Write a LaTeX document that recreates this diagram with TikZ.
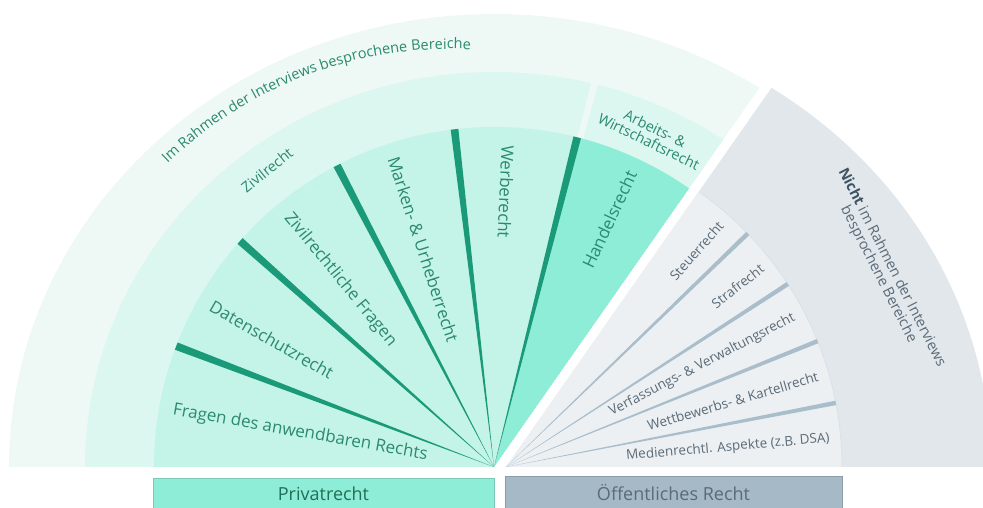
\documentclass[tikz,border=0pt]{standalone}
\usepackage{fontspec}
\setmainfont{Open Sans}
\usetikzlibrary{decorations.text}
\definecolor{ringA}{HTML}{EEF9F6}
\definecolor{ringB}{HTML}{DCF7F0}
\definecolor{fanG}{HTML}{C4F4E7}
\definecolor{handelG}{HTML}{8EEDD6}
\definecolor{sepG}{HTML}{1B9A7A}
\definecolor{txtG}{HTML}{2B8A6E}
\definecolor{ringC}{HTML}{E1E7EB}
\definecolor{fanC}{HTML}{ECF0F3}
\definecolor{sepC}{HTML}{A9BDCB}
\definecolor{txtC}{HTML}{5B6B78}
\definecolor{boldC}{HTML}{3E5363}
\definecolor{boxC}{HTML}{A6B9C6}

\begin{document}
\begin{tikzpicture}[x=1pt,y=1pt,
  gtext/.style={text=txtG,font=\fontsize{17}{19}\selectfont,inner sep=0pt},
  ctext/.style={text=txtC,font=\fontsize{13.5}{15}\selectfont,inner sep=0pt},
  rtext/.style={font=\fontsize{14.5}{14.5}\selectfont,inner sep=0pt,align=center}]
  \useasboundingbox (-494,-41) rectangle (489,467);
  % Privatrecht half
  \begin{scope}
    \clip (0,0) -- (55:1000) -- (90:1000) -- (180:1000) -- cycle;
    \fill[ringA] (0,0) ellipse[x radius=485,y radius=453];
    \fill[ringB] (0,0) ellipse[x radius=409,y radius=395];
    \fill[ringA] (0,0) -- (74.8:420) -- (75.8:420) -- cycle;
    \fill[fanG] (0,0) circle[radius=340];
    \fill[handelG] (0,0) -- (55:340) arc[start angle=55,end angle=75.83,radius=340] -- cycle;
    \foreach \a in {75.83,96.67,117.5,138.33,159.17}
      \fill[sepG] (0,0) -- ({\a-0.65}:340) arc[start angle=\a-0.65,end angle=\a+0.65,radius=340] -- cycle;
  \end{scope}
  % Oeffentliches Recht half
  \begin{scope}[shift={(12,0)}]
    \clip (0,0) -- (1000,0) -- (55:1000) -- cycle;
    \fill[ringC] (0,0) ellipse[x radius=485,y radius=453];
    \fill[fanC] (0,0) circle[radius=336];
    \draw[sepC!45,line width=0.7] (336,0) arc[start angle=0,end angle=55,radius=336];
    \foreach \a in {11,22,33,44}
      \fill[sepC] (0,0) -- ({\a-0.38}:336) arc[start angle=\a-0.38,end angle=\a+0.38,radius=336] -- cycle;
  \end{scope}

  % labels in the green fan
  \node[gtext,anchor=west,rotate=-10] (fragen) at (170:326) {Fragen des anwendbaren Rechts};
  \node[gtext,anchor=west,rotate=-29.8] (daten) at (150.2:326) {Datenschutzrecht};
  \node[gtext,anchor=west,rotate=-50.6] (zfragen) at (129.4:326) {Zivilrechtliche Fragen};
  \node[gtext,anchor=west,rotate=-72] (marken) at (108:326) {Marken- \& Urheberrecht};
  \node[gtext,anchor=west,rotate=-92.5] (werbe) at (87.5:322) {Werberecht};
  \node[gtext,anchor=east,rotate=65] (handel) at (65:326) {Handelsrecht};
  % labels in the grey fan
  \begin{scope}[shift={(12,0)}]
    \node[ctext,anchor=east,rotate=5] (medien) at (5:325) {Medienrechtl. Aspekte (z.B. DSA)};
    \node[ctext,anchor=east,rotate=16.2] (wettb) at (16.2:325) {Wettbewerbs- \& Kartellrecht};
    \node[ctext,anchor=east,rotate=27.5] (verf) at (27.5:325) {Verfassungs- \& Verwaltungsrecht};
    \node[ctext,anchor=east,rotate=38] (straf) at (38:325) {Strafrecht};
    \node[ctext,anchor=east,rotate=48.6] (steuer) at (48.6:325) {Steuerrecht};
  \end{scope}
  % ring labels
  \node[rtext,text=txtG,rotate=39] (zivil) at (-227,297) {Zivilrecht};
  \node[rtext,text=txtG,rotate=-26] (arbeit) at (158,332) {Arbeits- \&\\Wirtschaftsrecht};
  \node[rtext,text=txtC,rotate=-63,font=\fontsize{14.5}{15}\selectfont] (nicht) at (391,196)
    {\textcolor{boldC}{\textbf{Nicht}} im Rahmen der Interviews\\besprochene Bereiche};
  \path[decorate,decoration={text along path,text color=txtG,
      text={|\fontsize{14.5}{16}\selectfont|Im Rahmen der Interviews besprochene Bereiche}}]
    ([shift={(-43,10)}]134:408) arc[start angle=134,end angle=80,radius=408];

  % legend boxes
  \node[fill=handelG,draw=handelG!85!black,line width=0.6,minimum width=341,minimum height=32,
        text=txtG!80!black,font=\fontsize{18}{20}\selectfont] (privat) at (-170.5,-27) {Privatrecht};
  \node[fill=boxC,draw=boxC!85!black,line width=0.6,minimum width=337,minimum height=34,
        text=txtC,font=\fontsize{18}{20}\selectfont] (oeff) at (179.5,-26) {Öffentliches Recht};
\end{tikzpicture}
\end{document}
